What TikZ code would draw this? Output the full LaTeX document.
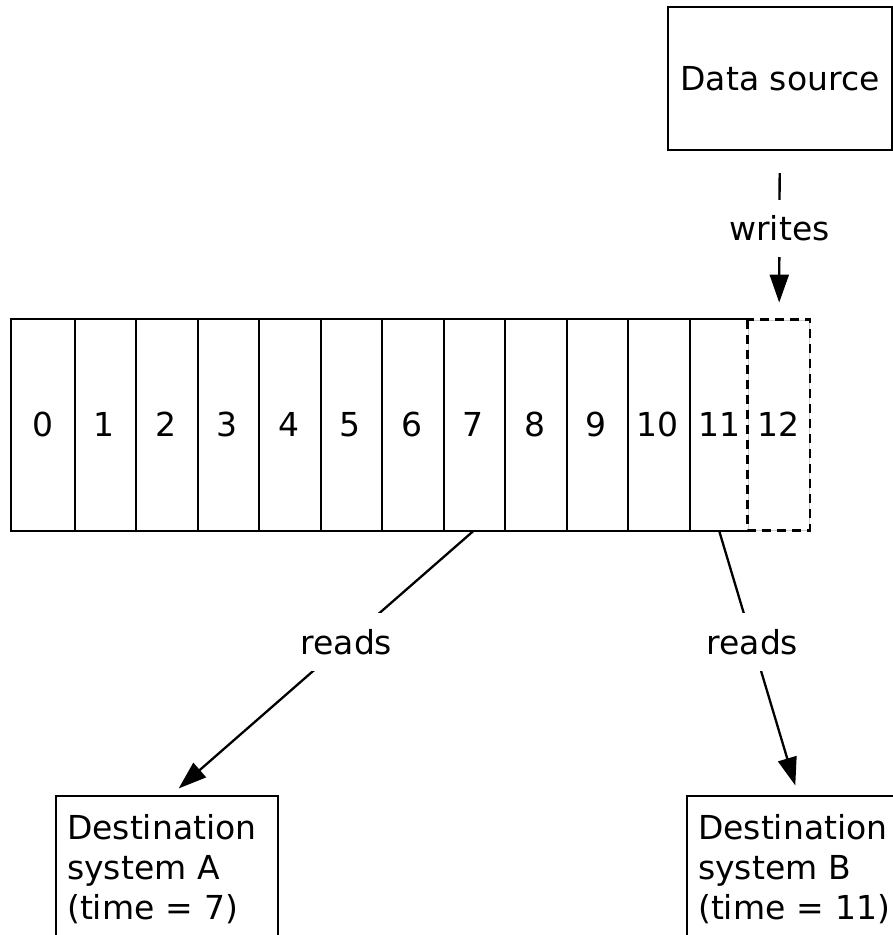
\documentclass[tikz,border=0pt]{standalone}
\usepackage{fontspec}
\setmainfont{DejaVu Sans}
\usetikzlibrary{arrows.meta}

\tikzset{
  cell/.style={minimum width=61.5pt, minimum height=210pt, inner sep=0pt, text height=24pt, text depth=0pt},
  dest/.style={draw, align=left, text width=200pt, inner xsep=11pt, inner ysep=18pt, anchor=north west},
  lbl/.style={fill=white, inner xsep=4pt, inner ysep=16pt},
  flow/.style={-{Triangle[length=28pt,width=19pt]}},
}

\begin{document}
\begin{tikzpicture}[x=1pt, y=1pt, line width=2.3pt, font=\fontsize{33}{40}\selectfont]
        \useasboundingbox (0,0) rectangle (893,935);
        \clip (0,0) rectangle (893,935);

        % the log: slots 0..11 written, 12 is next
        \foreach \i in {0,...,11}
            \node[cell] (c\i) at ({42.75+61.5*\i},510) {\i};
        \draw (c11.north east) -- (c0.north west) -- (c0.south west) -- (c11.south east);
        \foreach \i in {0,...,10}
            \draw (c\i.north east) -- (c\i.south east);

        \node[cell, draw=gray!40, line width=0.8pt] (c12) at (778.75,510) {12};
        \draw[dash pattern=on 9pt off 6pt] (c12.north west) rectangle (c12.south east);

        \node[draw, minimum width=224pt, minimum height=143pt] (src) at (780,856.5) {Data source};

        \node[dest] (dstA) at (55,140) {Destination\\system A\\(time = 7)};
        \node[dest] (dstB) at (686,140) {Destination\\system B\\(time = 11)};

        \draw[flow, shorten <=22pt, shorten >=17pt] (src) -- node[lbl, pos=0.46] {writes} (c12);
        \draw[flow, shorten >=10pt] (c7.south) -- node[lbl, pos=0.42] {reads} ([xshift=4pt]dstA.north);
        \draw[flow, shorten >=10pt] (c11.south) -- node[lbl, pos=0.42] {reads} (dstB.north);
    \end{tikzpicture}
\end{document}
